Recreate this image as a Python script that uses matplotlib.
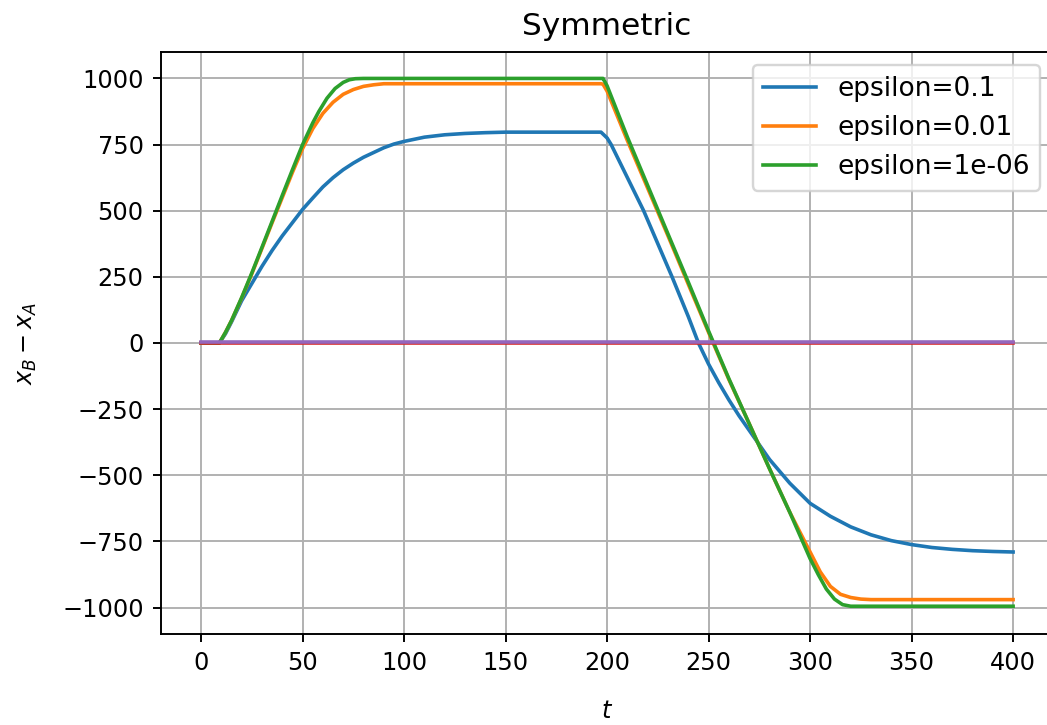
# plot.py
# Графік різниці x_B - x_A для трьох значень epsilon (симетричний випадок)

import numpy as np
import matplotlib
matplotlib.use('Agg')
import matplotlib.pyplot as plt

# -----------------------------------------------------------------------------
# Дані

# epsilon = 0.1
t_eps1 = [0, 9, 12, 15, 20, 25, 30, 35, 40, 45, 50, 55, 60, 65, 70, 75, 80, 85,
          90, 95, 100, 110, 120, 130, 140, 150, 170, 197,
          200, 202, 210, 218, 225, 232, 240, 245, 250, 255, 260, 265, 270,
          280, 290, 300, 310, 320, 330, 340, 350, 360, 370, 380, 390, 400]
y_eps1 = [0, 0, 35, 80, 160, 225, 290, 350, 405, 455, 505, 548, 590, 625, 655,
          680, 702, 720, 738, 752, 762, 778, 787, 792, 795, 797, 797, 797,
          775, 750, 625, 500, 375, 250, 100, 0, -80, -150, -215, -275, -330,
          -440, -530, -606, -655, -695, -725, -747, -762, -773, -780, -785, -788, -790]

# epsilon = 0.01
t_eps2 = [0, 9, 12, 15, 20, 25, 30, 35, 40, 45, 50, 55, 60, 65, 70, 75, 80, 85,
          90, 197, 198, 200, 210, 220, 230, 240, 250, 260, 270, 280, 290,
          300, 305, 310, 315, 320, 325, 330, 400]
y_eps2 = [0, 0, 40, 85, 170, 262, 358, 455, 550, 645, 735, 810, 868, 910, 940,
          958, 970, 976, 980, 980, 978, 952, 765, 585, 405, 222, 40, -138, -305,
          -475, -640, -790, -865, -920, -950, -962, -968, -970, -970]

# epsilon = 1e-06
t_eps3 = [0, 9, 12, 15, 20, 25, 30, 35, 40, 45, 50, 55, 58, 62, 66, 70, 73, 76, 80,
          197, 198, 200, 210, 220, 230, 240, 250, 260, 270, 280, 290,
          300, 304, 308, 312, 316, 320, 400]
y_eps3 = [0, 0, 40, 85, 172, 265, 362, 460, 558, 655, 750, 832, 875, 925, 962,
          985, 995, 999, 1000, 1000, 1000, 972, 778, 595, 412, 230, 45, -135, -305,
          -475, -640, -815, -875, -930, -968, -989, -995, -995]

# дві майже нульові лінії
t_flat = [0, 400]
y_flat_a = [0, 0]
y_flat_b = [3, 3]

labels = ['epsilon=0.1', 'epsilon=0.01', 'epsilon=1e-06']

# -----------------------------------------------------------------------------
# Малюємо

fig = plt.figure(figsize=(1047 / 173, 725 / 173), dpi=173)
ax = fig.add_axes([160.5 / 1047, 0.1255, 0.8531, 0.8028])

ax.plot(t_eps1, y_eps1, label=labels[0])
ax.plot(t_eps2, y_eps2, label=labels[1])
ax.plot(t_eps3, y_eps3, label=labels[2])
ax.plot(t_flat, y_flat_a, color='C3')
ax.plot(t_flat, y_flat_b, color='C4')

ax.set_xlim(-20, 420)
ax.set_ylim(-1100, 1100)
ax.set_xticks(np.arange(0, 401, 50))
ax.set_yticks(np.arange(-1000, 1001, 250))
ax.set_xlabel('$t$', labelpad=10)
ax.set_ylabel('$x_B - x_A$', labelpad=9.5)
ax.set_title('Symmetric', fontsize=13, pad=7)
ax.legend(loc='upper right', fontsize=11)
ax.grid(True)

fig.savefig('out.png', dpi=173)
